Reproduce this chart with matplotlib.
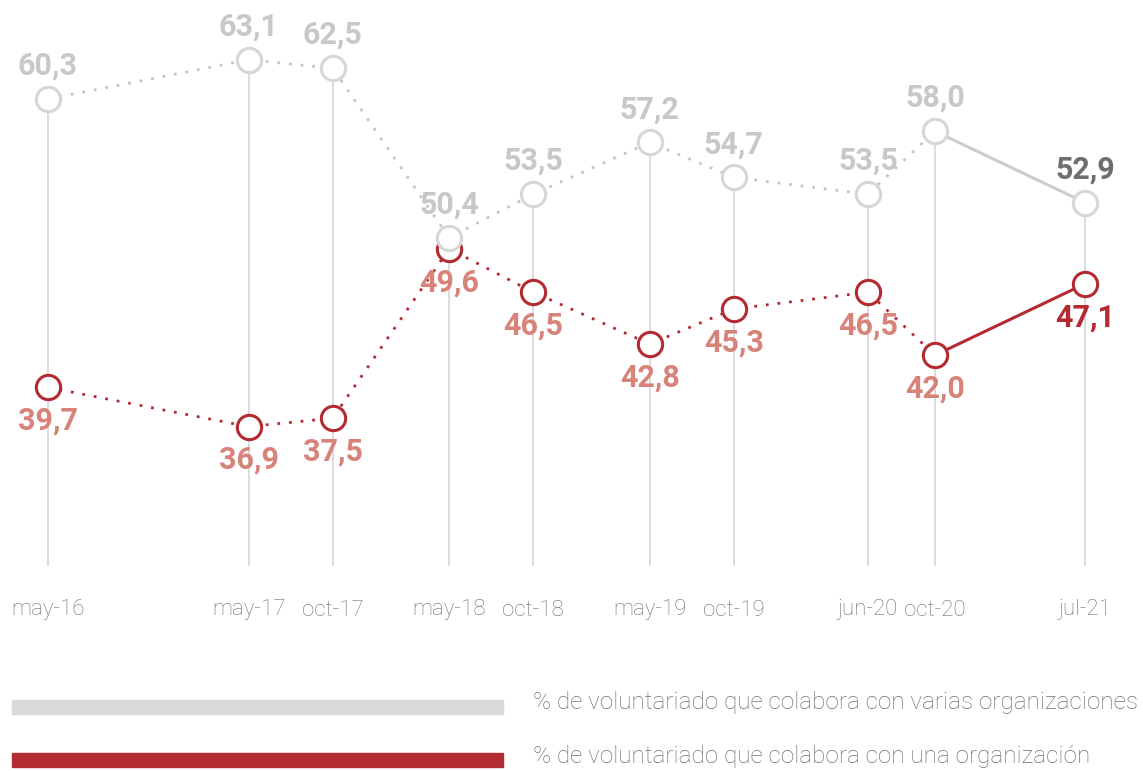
import pandas as pd
import matplotlib
matplotlib.use('Agg')
import matplotlib.pyplot as plt
import matplotlib.dates as mdates

plt.rcParams['font.family'] = ['Roboto', 'DejaVu Sans']

periods = ["may-16", "may-17", "oct-17", "may-18", "oct-18",
           "may-19", "oct-19", "jun-20", "oct-20", "jul-21"]
dates = pd.to_datetime(["2016-05-01", "2017-05-01", "2017-10-01", "2018-05-01",
                        "2018-10-01", "2019-05-01", "2019-10-01", "2020-06-01",
                        "2020-10-01", "2021-07-01"])
varias = [60.3, 63.1, 62.5, 50.4, 53.5, 57.2, 54.7, 53.5, 58.0, 52.9]
una = [39.7, 36.9, 37.5, 49.6, 46.5, 42.8, 45.3, 46.5, 42.0, 47.1]

legend_labels = ["% de voluntariado que colabora con varias organizaciones",
                 "% de voluntariado que colabora con una organización"]

GRAY = '#d6d6d6'
GRAY_TXT = '#c8c8c8'
GRAY_DARK = '#6e6e6e'
RED = '#b42a32'
RED_TXT = '#d8837a'
BASE = 27.0
PX = 14.0   # pixels per percentage point

x = mdates.date2num(dates)

fig = plt.figure(figsize=(11.43, 7.71), dpi=100)
ax = fig.add_axes([0, 0, 1, 1])
ax.set_xlim(x[0] - 87.3, x[-1] + 105.5)
ax.set_ylim(60.3 - 672 / PX, 60.3 + 99 / PX)
ax.axis('off')

# vertical guide lines from the top marker down to the baseline
for xi, top in zip(x, varias):
    ax.plot([xi, xi], [BASE, top], color='#dcdcdc', lw=1.4, zorder=1)

dot = (0, (1, 3.2))
# gray series
ax.plot(x[:-1], varias[:-1], color='#c4c4c4', lw=2, ls=dot, zorder=2)
ax.plot(x[-2:], varias[-2:], color='#cccccc', lw=2.2, zorder=2)
# red series
ax.plot(x[:-1], una[:-1], color=RED, lw=2, ls=dot, zorder=2)
ax.plot(x[-2:], una[-2:], color=RED, lw=2.2, zorder=2)

ax.plot(x, una, ls='none', marker='o', ms=17.5, mfc='white', mec=RED, mew=2.2, zorder=3)
ax.plot(x, varias, ls='none', marker='o', ms=17.5, mfc='white', mec=GRAY, mew=2.2, zorder=4)

fmt = lambda v: f"{v:.1f}".replace('.', ',')
for i, (xi, v) in enumerate(zip(x, varias)):
    c = GRAY_DARK if i == len(x) - 1 else GRAY_TXT
    ax.annotate(fmt(v), (xi, v), xytext=(0, 24), textcoords='offset points',
                ha='center', va='center', fontsize=22, fontweight='bold', color=c, zorder=5)
for i, (xi, v) in enumerate(zip(x, una)):
    c = RED if i == len(x) - 1 else RED_TXT
    ax.annotate(fmt(v), (xi, v), xytext=(0, -24), textcoords='offset points',
                ha='center', va='center', fontsize=22, fontweight='bold', color=c, zorder=5)

for xi, lab in zip(x, periods):
    ax.text(xi, 60.3 - 511 / PX, lab, ha='center', va='center', fontsize=16,
            fontweight='light', color='#707070')

# legend drawn in figure pixel coordinates
W, H = 1143, 771
for (y0, col), lab in zip([(707, '#d9d9d9'), (760, '#b32c33')], legend_labels):
    fig.patches.append(plt.Rectangle((12 / W, 1 - (y0 + 7) / H), 491 / W, 14 / H,
                                     transform=fig.transFigure, color=col))
    fig.text(533 / W, 1 - (y0 - 4) / H, lab, ha='left', va='center', fontsize=17.5,
             fontweight='light', color='#707070')

fig.savefig('out.png', dpi=100)
